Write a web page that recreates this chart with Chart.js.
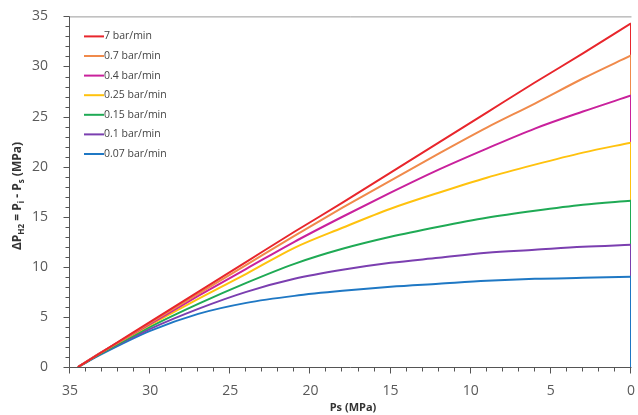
<!DOCTYPE html>
<html>
<head>
<meta charset="utf-8">
<script src="https://cdn.jsdelivr.net/npm/chart.js@4.4.1/dist/chart.umd.min.js"></script>
<style>
  html, body { margin: 0; padding: 0; background: #fff; }
  #wrap { width: 638px; height: 415px; overflow: hidden; position: relative; }
  #grafico { position: absolute; left: 0; top: -6px; }
</style>
</head>
<body>
<div id="wrap"><canvas id="grafico" width="643" height="421"></canvas></div>
<script>
// Presión de almacenamiento Ps (MPa), común a todas las curvas
const ps = [34.5, 33, 30, 27, 24, 21, 18, 15, 12, 9, 6, 3, 0];

// ΔP para cada velocidad de descompresión
const rojo7     = [0, 1.5, 4.5, 7.5, 10.5, 13.5, 16.4, 19.4, 22.4, 25.4, 28.4, 31.3, 34.3];
const naranja07 = [0, 1.5, 4.4, 7.3, 10.2, 13.1, 15.9, 18.6, 21.3, 23.9, 26.3, 28.8, 31.1];
const magenta04 = [0, 1.5, 4.3, 7.1, 9.8, 12.5, 15.0, 17.4, 19.7, 21.8, 23.8, 25.5, 27.1];
const amarillo025 = [0, 1.5, 4.2, 6.8, 9.3, 11.9, 13.9, 15.8, 17.4, 18.9, 20.2, 21.4, 22.4];
const verde015  = [0, 1.4, 4.0, 6.3, 8.4, 10.3, 11.8, 13.0, 14.0, 14.9, 15.6, 16.2, 16.6];
const morado01  = [0, 1.4, 3.8, 5.8, 7.5, 8.8, 9.7, 10.4, 10.9, 11.4, 11.7, 12.0, 12.2];
const azul007   = [0, 1.3, 3.6, 5.3, 6.4, 7.1, 7.6, 8.0, 8.3, 8.6, 8.8, 8.9, 9.0];

const etiquetas = ['7 bar/min', '0.7 bar/min', '0.4 bar/min', '0.25 bar/min', '0.15 bar/min', '0.1 bar/min', '0.07 bar/min'];
const series = [rojo7, naranja07, magenta04, amarillo025, verde015, morado01, azul007];
const colores = ['#e8262c', '#f08a4b', '#c9219c', '#ffc20e', '#1faa55', '#7b3fb0', '#1f78c4'];

const ticksX = [35, 30, 25, 20, 15, 10, 5, 0];
const ticksY = [0, 5, 10, 15, 20, 25, 30, 35];

const fuente = '"Open Sans", "Liberation Sans", sans-serif';

function puntos(valores) {
  return valores.map((v, i) => ({ x: ps[i], y: v }));
}

// Curvas suaves
const curvas = series.map((s, i) => ({
  label: etiquetas[i],
  data: puntos(s),
  borderColor: colores[i],
  backgroundColor: colores[i],
  borderWidth: 2,
  pointRadius: 0,
  cubicInterpolationMode: 'monotone',
  fill: false
}));

// Caída vertical en Ps = 0 hasta ΔP = 0 (la más baja queda encima)
const caidas = series.map((s, i) => ({
  label: '',
  esCaida: true,
  data: [{ x: 0, y: s[s.length - 1] }, { x: 0, y: 0 }],
  borderColor: colores[i],
  borderWidth: 2,
  pointRadius: 0,
  tension: 0,
  fill: false
})).reverse();

// Marcas menores, marco, títulos de ejes y leyenda
const decoracion = {
  id: 'decoracion',
  afterDraw(chart) {
    const ctx = chart.ctx;
    const area = chart.chartArea;
    const sx = chart.scales.x;
    const sy = chart.scales.y;
    ctx.save();

    // marco superior
    ctx.strokeStyle = '#9a9a9a';
    ctx.lineWidth = 1;
    ctx.beginPath();
    ctx.moveTo(area.left, area.top + 0.5);
    ctx.lineTo(area.right + 0.5, area.top + 0.5);
    ctx.stroke();

    // ejes izquierdo e inferior
    ctx.strokeStyle = '#555';
    ctx.beginPath();
    ctx.moveTo(area.left - 0.5, area.top);
    ctx.lineTo(area.left - 0.5, area.bottom + 0.5);
    ctx.lineTo(area.right + 0.5, area.bottom + 0.5);
    ctx.stroke();

    // marcas cada 1 MPa
    ctx.beginPath();
    for (let v = 0; v <= 35; v++) {
      const largo = v % 5 === 0 ? 6 : 4;
      const py = Math.round(sy.getPixelForValue(v)) + 0.5;
      ctx.moveTo(area.left - 0.5, py);
      ctx.lineTo(area.left - 0.5 - largo, py);
      const px = Math.round(sx.getPixelForValue(v)) - 0.5;
      ctx.moveTo(px, area.bottom + 0.5);
      ctx.lineTo(px, area.bottom + 0.5 + largo);
    }
    ctx.stroke();

    // título eje x
    ctx.fillStyle = '#333';
    ctx.font = 'bold 11px ' + fuente;
    ctx.textAlign = 'center';
    ctx.textBaseline = 'middle';
    ctx.fillText('Ps (MPa)', 353, 414);

    // título eje y con subíndices
    const partes = [
      ['ΔP', false], ['H2', true], [' = P', false], ['i', true], [' - P', false], ['s', true], [' (MPa)', false]
    ];
    const fNormal = 'bold 12px ' + fuente;
    const fSub = 'bold 8px ' + fuente;
    let total = 0;
    partes.forEach(([t, sub]) => {
      ctx.font = sub ? fSub : fNormal;
      total += ctx.measureText(t).width;
    });
    ctx.translate(18, 202);
    ctx.rotate(-Math.PI / 2);
    ctx.textAlign = 'left';
    let x = -total / 2;
    partes.forEach(([t, sub]) => {
      ctx.font = sub ? fSub : fNormal;
      ctx.fillText(t, x, sub ? 4 : 0);
      x += ctx.measureText(t).width;
    });
    ctx.restore();

    // leyenda dentro del área
    ctx.save();
    ctx.font = '10.5px ' + fuente;
    ctx.textBaseline = 'middle';
    ctx.textAlign = 'left';
    chart.data.datasets.filter(ds => !ds.esCaida).forEach((ds, i) => {
      const y = area.top + 20 + i * 19.6;
      ctx.strokeStyle = ds.borderColor;
      ctx.lineWidth = 2;
      ctx.beginPath();
      ctx.moveTo(84, y);
      ctx.lineTo(104, y);
      ctx.stroke();
      ctx.fillStyle = '#444';
      ctx.fillText(ds.label, 104, y);
    });
    ctx.restore();
  }
};

new Chart(document.getElementById('grafico').getContext('2d'), {
  type: 'line',
  data: { datasets: curvas.concat(caidas) },
  options: {
    responsive: false,
    animation: false,
    layout: { padding: { top: 8, right: 2, left: 0, bottom: 0 } },
    plugins: {
      legend: { display: false },
      tooltip: { enabled: false }
    },
    scales: {
      x: {
        type: 'linear',
        reverse: true,
        min: 0,
        max: 35,
        grid: { display: false },
        border: { display: false },
        afterFit(scale) { scale.height = 48; },
        afterBuildTicks(scale) { scale.ticks = ticksX.map(v => ({ value: v })); },
        ticks: {
          padding: 8,
          color: '#595959',
          font: { family: fuente, size: 14 }
        }
      },
      y: {
        min: 0,
        max: 35,
        grid: { display: false },
        border: { display: false },
        afterFit(scale) { scale.width = 70; },
        afterBuildTicks(scale) { scale.ticks = ticksY.map(v => ({ value: v })); },
        ticks: {
          padding: 14,
          color: '#595959',
          font: { family: fuente, size: 14 }
        }
      }
    }
  },
  plugins: [decoracion]
});
</script>
</body>
</html>
